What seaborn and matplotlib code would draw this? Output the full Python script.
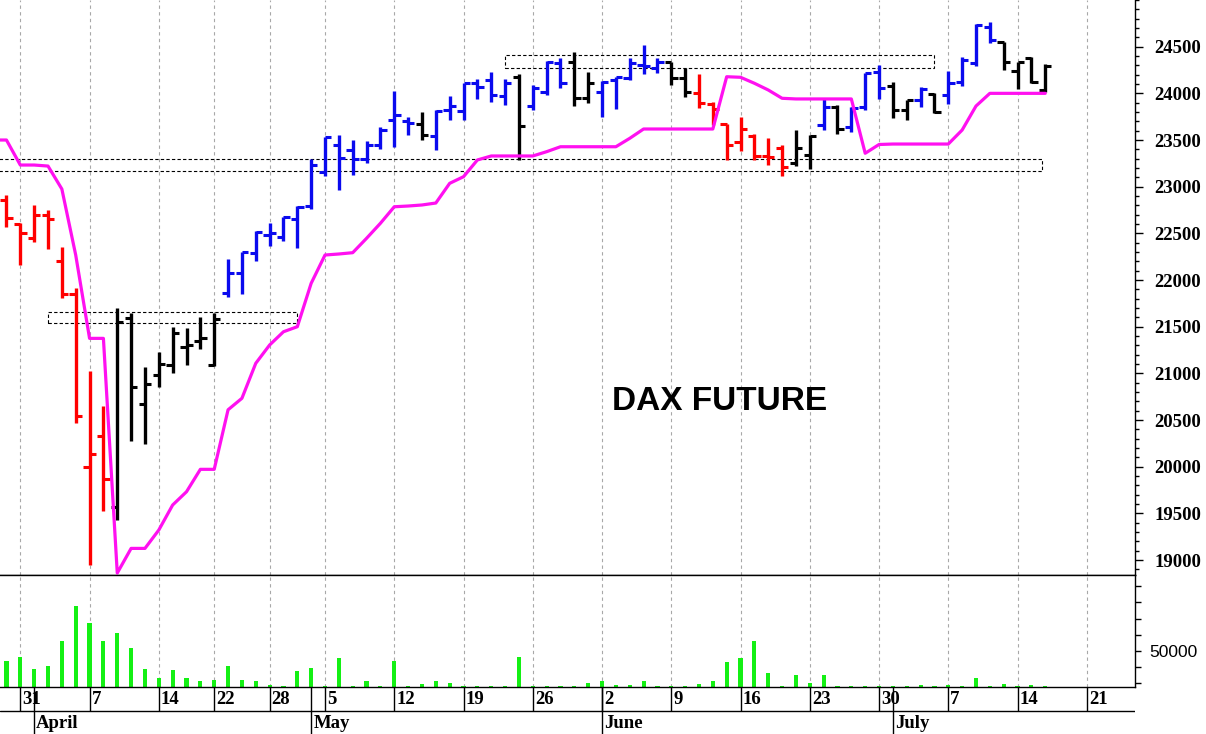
import numpy as np
import pandas as pd
import matplotlib
matplotlib.use("Agg")
import matplotlib.pyplot as plt
from matplotlib.patches import Rectangle
from matplotlib.ticker import FixedLocator, MultipleLocator, FuncFormatter
import seaborn as sns

sns.set_style("white", {'axes.edgecolor': 'black', 'text.color': 'black',
                        'xtick.color': 'black', 'ytick.color': 'black'})
plt.rcParams['font.family'] = ['Liberation Serif', 'DejaVu Serif']

# trading days (Eurex closed on Good Friday, Easter Monday, 1 May)
holidays = ['2025-04-18', '2025-04-21', '2025-05-01']
dates = pd.bdate_range('2025-03-27', '2025-07-25')
dates = dates[~dates.isin(pd.to_datetime(holidays))]

# daily bars, 27 Mar .. 16 Jul 2025
opens = [np.nan, 22857, 22597, 22447, 22696, 22204, 21850, 20000, 20329, 19571, 21590,
         20671, 20982, 21089, 21285, 21350, 21089, 21866, 22078, 22286, 22480,
         22464, 22650, 22793, 23160, 23446, 23393, 23293, 23446, 23714, 23707,
         23671, 23543, 23821, 23811, 24108, 24143, 23971, 24178, 23864, 24018,
         24322, 24339, 23947, 24018, 24143, 24161, 24304, 24271, 24339, 24161,
         24000, 23886, 23671, 23482, 23543, 23329, 23411, 23257, 23339, 23661,
         23850, 23636, 23850, 24232, 24079, 23821, 23929, 23993, 23982, 24125,
         24328, 24714, 24553, 24243, 24375, 24036]
highs = [np.nan, 22911, 22608, 22804, 22750, 22357, 21918, 21028, 20650, 21697, 21650,
         21071, 21225, 21500, 21489, 21607, 21643, 22222, 22297, 22525, 22608,
         22678, 22793, 23296, 23535, 23554, 23500, 23493, 23643, 24028, 23750,
         23803, 23821, 23971, 24108, 24150, 24232, 24150, 24204, 24089, 24346,
         24375, 24446, 24232, 24132, 24178, 24375, 24518, 24375, 24339, 24268,
         24204, 23910, 23671, 23743, 23564, 23518, 23446, 23607, 23554, 23947,
         23875, 23857, 24221, 24304, 24125, 23929, 24071, 24000, 24243, 24386,
         24743, 24768, 24553, 24339, 24386, 24314]
lows = [np.nan, 22571, 22161, 22410, 22329, 21804, 20471, 18947, 19525, 19429, 20275,
        20243, 20850, 21007, 21089, 21258, 21079, 21813, 21850, 22207, 22364,
        22421, 22340, 22758, 23114, 22964, 23125, 23257, 23400, 23422, 23554,
        23500, 23393, 23714, 23714, 23936, 23910, 23875, 23286, 23821, 23982,
        24054, 23864, 23900, 23743, 23829, 24143, 24207, 24221, 24089, 23964,
        23840, 23661, 23286, 23386, 23286, 23232, 23114, 23221, 23186, 23607,
        23564, 23589, 23821, 23936, 23733, 23714, 23850, 23793, 23886, 24079,
        24293, 24536, 24250, 24043, 24114, 24018]
closes = [np.nan, 22661, 22500, 22696, 22650, 21850, 20543, 20136, 19865, 21553, 20857,
          20883, 21097, 21429, 21304, 21379, 21579, 22075, 22297, 22518, 22500,
          22678, 22785, 23232, 23529, 23304, 23293, 23446, 23607, 23768, 23685,
          23554, 23811, 23864, 24108, 24071, 23982, 24108, 23650, 24054, 24339,
          24108, 23947, 24108, 24125, 24178, 24322, 24293, 24339, 24161, 24018,
          23900, 23829, 23446, 23615, 23329, 23321, 23207, 23411, 23543, 23850,
          23615, 23840, 24215, 24054, 23821, 23929, 24043, 23803, 24114, 24357,
          24732, 24571, 24339, 24339, 24125, 24293]
bar_colors = list("r" + "r" * 8 + "k" * 8 + "b" * 14 + "k" + "b" * 6 + "k" + "b" * 3
                  + "k" * 2 + "b" * 5 + "k" * 2 + "r" * 7 + "k" * 2 + "b" + "k"
                  + "b" * 3 + "k" * 2 + "b" + "k" + "b" * 4 + "k" * 4)
stop = [23500, 23500, 23232, 23232, 23221, 22975, 22268, 21375, 21375, 18861, 19125,
        19125, 19322, 19590, 19732, 19972, 19972, 20610, 20733, 21108, 21304,
        21446, 21500, 21965, 22268, 22279, 22293, 22447, 22608, 22785, 22793,
        22804, 22825, 23036, 23107, 23286, 23329, 23329, 23329, 23329, 23375,
        23428, 23428, 23428, 23428, 23428, 23518, 23618, 23618, 23618, 23618,
        23618, 23618, 24178, 24172, 24108, 24036, 23947, 23940, 23940, 23940,
        23940, 23940, 23358, 23452, 23457, 23457, 23457, 23457, 23457, 23607,
        23864, 24000, 24000, 24000, 24000, 24000]
volume = [np.nan, 43830, 46110, 38700, 40930, 56170, 77960, 67470, 56170, 61300, 51670,
          38700, 33150, 38270, 33150, 31480, 32100, 40930, 32100, 31480, 28830,
          28580, 37650, 39320, 28400, 45490, 28580, 31480, 28580, 43830, 28580,
          29630, 31480, 30430, 28400, 28580, 28580, 28580, 46300, 28400, 28400,
          28580, 28580, 30430, 31480, 29010, 29010, 31480, 28580, 28580, 28580,
          29630, 31480, 43020, 45490, 56170, 36600, 28580, 35190, 30430, 35190,
          28580, 28580, 28580, 28580, 28580, 28580, 29010, 28580, 29010, 28580,
          33150, 28580, 29630, 28580, 28830, 28580]

# dotted support / resistance zones: (from bar, to bar, low, high)
zones = [(-3, 73.8, 23171, 23294), (2, 20, 21543, 21661), (35, 66, 24269, 24411)]

n = len(opens)
pos = np.arange(len(dates)) - 2          # 31 Mar = 0
x = pos[:n]
opens, highs, lows, closes = map(np.array, (opens, highs, lows, closes))

colmap = {'r': '#ff0000', 'k': '#000000', 'b': '#0a0aee'}
cols = [colmap[c] for c in bar_colors]

W, H = 1206, 734
fig = plt.figure(figsize=(W / 100, H / 100), dpi=100)


def box(top, bottom):
    return [0, 1 - bottom / H, 1135 / W, (bottom - top) / H]


ax_p = fig.add_axes(box(0, 575))
ax_v = fig.add_axes(box(575, 687), sharex=ax_p)
ax_d = fig.add_axes(box(687, 734), sharex=ax_p)
xmin, xmax = -1.466, 80.48

# week / month ticks
d = pd.Series(dates)
wk = d.dt.isocalendar()['week']
week_first = (~wk.duplicated()).values
month_first = (~d.dt.month.duplicated()).values
week_pos = pos[week_first]
week_lab = d[week_first].dt.day.values
month_pos = pos[month_first]
month_lab = d[month_first].dt.strftime('%B').values

grid_kw = dict(color='#a8a8a8', ls=(0, (3, 3)), lw=0.8, zorder=0)
for w in week_pos:
    ax_p.axvline(w, **grid_kw)
    ax_v.axvline(w, **grid_kw)

# price panel
for x0, x1, y0, y1 in zones:
    ax_p.add_patch(Rectangle((x0, y0), x1 - x0, y1 - y0, fill=False, ec='black',
                             ls=(0, (3, 2)), lw=0.8, zorder=1))
ax_p.vlines(x, lows, highs, colors=cols, lw=2.4, zorder=3)
ax_p.hlines(opens, x - 0.45, x, colors=cols, lw=2.2, zorder=3)
ax_p.hlines(closes, x, x + 0.45, colors=cols, lw=2.2, zorder=3)
sns.lineplot(x=x, y=stop, ax=ax_p, color='#ff10f0', lw=2.3, sort=False, zorder=4)

ax_p.text(0.6344, 0.3009, 'DAX FUTURE', transform=ax_p.transAxes, ha='center',
          va='center', fontsize=24, fontweight='bold', family='Liberation Sans')

ax_p.set_xlim(xmin, xmax)
ax_p.set_ylim(18840, 25000)
ax_p.yaxis.tick_right()
ax_p.yaxis.set_major_locator(FixedLocator(range(19000, 24501, 500)))
ax_p.yaxis.set_minor_locator(MultipleLocator(100))
ax_p.tick_params(axis='y', which='major', right=True, direction='out', length=6,
                 width=1, pad=8, labelsize=13.5)
ax_p.tick_params(axis='y', which='minor', right=True, direction='out', length=3, width=1)
ax_p.tick_params(axis='x', bottom=False, labelbottom=False)
plt.setp(ax_p.get_yticklabels(), fontweight='bold')

# volume panel
ax_v.bar(x, volume, width=0.3, color='#14f014', lw=0, zorder=2)
ax_v.set_ylim(27780, 96910)
ax_v.yaxis.tick_right()
ax_v.yaxis.set_major_locator(FixedLocator(range(30000, 90001, 10000)))
ax_v.yaxis.set_major_formatter(FuncFormatter(lambda v, p: '50000' if v == 50000 else ''))
ax_v.tick_params(axis='y', right=True, direction='out', length=4.5, width=1, pad=6,
                 labelsize=12.5)
ax_v.tick_params(axis='x', bottom=False, labelbottom=False)
plt.setp(ax_v.get_yticklabels(), family='Liberation Sans')

for ax in (ax_p, ax_v):
    ax.spines['left'].set_visible(False)
    ax.spines['top'].set_visible(False)
    ax.spines['right'].set_linewidth(1)
    ax.spines['bottom'].set_linewidth(1)
ax_v.spines['top'].set_visible(True)
ax_v.spines['top'].set_linewidth(1)

# date rows
ax_d.set_ylim(47, 0)
ax_d.axis('off')
ax_d.axhline(24, color='black', lw=1)
seps = [p for p in np.concatenate([week_pos, month_pos]) if p >= xmin]
ax_d.vlines(seps, 0, 24, colors='black', lw=1)
ax_d.vlines([p for p in month_pos if p >= xmin], 24, 47, colors='black', lw=1)
for p, lab in zip(week_pos, week_lab):
    if xmin <= p < xmax - 1:
        ax_d.text(p + 0.15, 12.5, str(lab), ha='left', va='center', fontsize=13.5,
                  fontweight='bold')
for p, lab in zip(month_pos, month_lab):
    if xmin <= p < xmax - 1:
        ax_d.text(p + 0.15, 36.5, lab, ha='left', va='center', fontsize=13.5,
                  fontweight='bold')
ax_d.set_xlim(xmin, xmax)

fig.savefig('out.png', dpi=100)
